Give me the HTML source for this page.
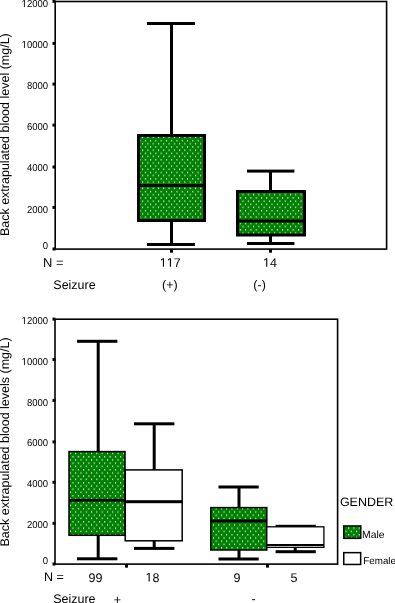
<!DOCTYPE html><html><head><meta charset="utf-8"><style>
html,body{margin:0;padding:0;background:#fff;width:395px;height:603px;overflow:hidden}
svg{display:block;will-change:transform}
text{font-family:"Liberation Sans",sans-serif;fill:#000;text-rendering:geometricPrecision;font-kerning:none;white-space:pre}
.t{font-size:10.0px}
.l{font-size:12.5px}
.g{font-size:9.8px}
</style></head><body>
<svg width="395" height="603" viewBox="0 0 395 603">
<defs><pattern id="dots" x="2.24" y="6.08" width="5.28" height="6.37" patternUnits="userSpaceOnUse"><rect width="5.28" height="6.37" fill="#008000"/><rect x="0" y="0" width="1" height="1.5" fill="#fff" fill-opacity="0.95"/><rect x="2.64" y="3.185" width="1" height="1.5" fill="#fff" fill-opacity="0.95"/></pattern><pattern id="dots2" x="3.6" y="0.95" width="5.3" height="6.5" patternUnits="userSpaceOnUse"><rect width="5.3" height="6.5" fill="#008000"/><rect x="0" y="0" width="1" height="1.5" fill="#fff" fill-opacity="0.95"/><rect x="2.65" y="3.25" width="1" height="1.5" fill="#fff" fill-opacity="0.95"/></pattern></defs>
<rect x="170.00" y="23.5" width="3" height="112.00" fill="#000"/>
<rect x="170.00" y="220.5" width="3" height="24.00" fill="#000"/>
<rect x="147" y="22.00" width="48.00" height="3" fill="#000"/>
<rect x="147" y="243.00" width="48.00" height="3" fill="#000"/>
<rect x="138.5" y="135.5" width="66.00" height="85.00" fill="url(#dots)" stroke="#000" stroke-width="3"/>
<rect x="138.5" y="184.00" width="66.00" height="3" fill="#000"/>
<rect x="269.00" y="171.1" width="3" height="20.40" fill="#000"/>
<rect x="269.00" y="235" width="3" height="8.50" fill="#000"/>
<rect x="247" y="169.60" width="47.40" height="3" fill="#000"/>
<rect x="247" y="242.00" width="47.40" height="3" fill="#000"/>
<rect x="237.5" y="191.5" width="67.00" height="43.50" fill="url(#dots)" stroke="#000" stroke-width="3"/>
<rect x="237.5" y="219.50" width="67.00" height="3" fill="#000"/>
<rect x="55.2" y="1.5" width="331.40" height="247.60" fill="none" stroke="#000" stroke-width="1.6"/>
<rect x="52.5" y="-0.20" width="3.0" height="3" fill="#000"/>
<g transform="translate(48.00,7.00) scale(0.95,1)"><text x="-27.808" y="0" class="t"> 2000</text><path d="M515 0V1237L197 1010V1180L530 1409H696V0Z" transform="translate(-27.808,0) scale(0.004883,-0.004883)" fill="#000"/></g>
<rect x="52.5" y="41.90" width="3.0" height="3" fill="#000"/>
<g transform="translate(48.00,48.00) scale(0.95,1)"><text x="-27.808" y="0" class="t"> 0000</text><path d="M515 0V1237L197 1010V1180L530 1409H696V0Z" transform="translate(-27.808,0) scale(0.004883,-0.004883)" fill="#000"/></g>
<rect x="52.5" y="82.60" width="3.0" height="3" fill="#000"/>
<g transform="translate(48.00,89.00) scale(0.95,1)"><text x="-22.246" y="0" class="t">8000</text></g>
<rect x="52.5" y="123.60" width="3.0" height="3" fill="#000"/>
<g transform="translate(48.00,130.00) scale(0.95,1)"><text x="-22.246" y="0" class="t">6000</text></g>
<rect x="52.5" y="165.50" width="3.0" height="3" fill="#000"/>
<g transform="translate(48.00,171.00) scale(0.95,1)"><text x="-22.246" y="0" class="t">4000</text></g>
<rect x="52.5" y="205.90" width="3.0" height="3" fill="#000"/>
<g transform="translate(48.00,213.00) scale(0.95,1)"><text x="-22.246" y="0" class="t">2000</text></g>
<rect x="52.5" y="247.50" width="3.0" height="3" fill="#000"/>
<g transform="translate(48.00,249.00) scale(0.95,1)"><text x="-5.562" y="0" class="t">0</text></g>
<rect x="170.0" y="249.1" width="3" height="3.6" fill="#000"/>
<rect x="269.0" y="249.1" width="3" height="3.6" fill="#000"/>
<text x="43.1" y="266.6" class="l" style="font-size:12.9px">N =</text>
<g transform="translate(170.20,266.80) scale(1.0,1)"><text x="-10.428" y="0" class="l">  7</text><path d="M515 0V1237L197 1010V1180L530 1409H696V0Z" transform="translate(-10.428,0) scale(0.006104,-0.006104)" fill="#000"/><path d="M515 0V1237L197 1010V1180L530 1409H696V0Z" transform="translate(-3.476,0) scale(0.006104,-0.006104)" fill="#000"/></g>
<g transform="translate(270.00,266.80) scale(1.0,1)"><text x="-6.952" y="0" class="l"> 4</text><path d="M515 0V1237L197 1010V1180L530 1409H696V0Z" transform="translate(-6.952,0) scale(0.006104,-0.006104)" fill="#000"/></g>
<text x="53.3" y="288.9" class="l">Seizure</text>
<text x="169.8" y="288.9" class="l" text-anchor="middle">(+)</text>
<text x="259.6" y="288.9" class="l" text-anchor="middle">(-)</text>
<text transform="translate(8.9,236.1) rotate(-90)" class="l">Back extrapulated blood level (mg/L)</text>
<rect x="96.70" y="341.3" width="3" height="110.30" fill="#000"/>
<rect x="96.70" y="535.3" width="3" height="23.50" fill="#000"/>
<rect x="77" y="339.80" width="40.40" height="3" fill="#000"/>
<rect x="77" y="557.30" width="40.40" height="3" fill="#000"/>
<rect x="69" y="451.6" width="56.00" height="83.70" fill="url(#dots2)" stroke="#000" stroke-width="1.5"/>
<rect x="69" y="498.95" width="56.00" height="2.7" fill="#000"/>
<rect x="152.70" y="423.8" width="3" height="46.10" fill="#000"/>
<rect x="152.70" y="540.8" width="3" height="7.60" fill="#000"/>
<rect x="134" y="422.30" width="40.40" height="3" fill="#000"/>
<rect x="134" y="546.90" width="40.40" height="3" fill="#000"/>
<rect x="125.2" y="469.9" width="57.00" height="70.90" fill="#fff" stroke="#000" stroke-width="1.5"/>
<rect x="125.2" y="500.20" width="57.00" height="3" fill="#000"/>
<rect x="237.50" y="487" width="3" height="20.60" fill="#000"/>
<rect x="237.50" y="550" width="3" height="9.00" fill="#000"/>
<rect x="218.5" y="485.50" width="40.20" height="3" fill="#000"/>
<rect x="218.5" y="557.50" width="40.20" height="3" fill="#000"/>
<rect x="210.8" y="507.6" width="56.00" height="42.40" fill="url(#dots2)" stroke="#000" stroke-width="1.5"/>
<rect x="210.8" y="519.50" width="56.00" height="3" fill="#000"/>
<rect x="293.70" y="526.3" width="3" height="0.50" fill="#000"/>
<rect x="293.70" y="547.2" width="3" height="4.50" fill="#000"/>
<rect x="275.6" y="524.80" width="40.20" height="3" fill="#000"/>
<rect x="275.6" y="550.20" width="40.20" height="3" fill="#000"/>
<rect x="266.8" y="526.8" width="57.10" height="20.55" fill="#fff" stroke="#000" stroke-width="1.3"/>
<rect x="266.8" y="544.00" width="57.10" height="2" fill="#000"/>
<rect x="55.0" y="319.2" width="282.60" height="244.90" fill="none" stroke="#000" stroke-width="1.6"/>
<rect x="52.5" y="317.60" width="3.0" height="3" fill="#000"/>
<g transform="translate(48.00,324.00) scale(0.95,1)"><text x="-27.808" y="0" class="t"> 2000</text><path d="M515 0V1237L197 1010V1180L530 1409H696V0Z" transform="translate(-27.808,0) scale(0.004883,-0.004883)" fill="#000"/></g>
<rect x="52.5" y="358.05" width="3.0" height="3" fill="#000"/>
<g transform="translate(48.00,365.00) scale(0.95,1)"><text x="-27.808" y="0" class="t"> 0000</text><path d="M515 0V1237L197 1010V1180L530 1409H696V0Z" transform="translate(-27.808,0) scale(0.004883,-0.004883)" fill="#000"/></g>
<rect x="52.5" y="398.90" width="3.0" height="3" fill="#000"/>
<g transform="translate(48.00,406.00) scale(0.95,1)"><text x="-22.246" y="0" class="t">8000</text></g>
<rect x="52.5" y="440.40" width="3.0" height="3" fill="#000"/>
<g transform="translate(48.00,446.00) scale(0.95,1)"><text x="-22.246" y="0" class="t">6000</text></g>
<rect x="52.5" y="480.80" width="3.0" height="3" fill="#000"/>
<g transform="translate(48.00,487.00) scale(0.95,1)"><text x="-22.246" y="0" class="t">4000</text></g>
<rect x="52.5" y="521.80" width="3.0" height="3" fill="#000"/>
<g transform="translate(48.00,528.00) scale(0.95,1)"><text x="-22.246" y="0" class="t">2000</text></g>
<rect x="52.5" y="562.50" width="3.0" height="3" fill="#000"/>
<g transform="translate(48.00,564.00) scale(0.95,1)"><text x="-5.562" y="0" class="t">0</text></g>
<rect x="125.0" y="564.1" width="3" height="3.5" fill="#000"/>
<rect x="266.0" y="564.1" width="3" height="3.5" fill="#000"/>
<text x="44" y="581.3" class="l">N =</text>
<text x="95.4" y="581.5" class="l" text-anchor="middle">99</text>
<g transform="translate(152.40,581.50) scale(1.0,1)"><text x="-6.952" y="0" class="l"> 8</text><path d="M515 0V1237L197 1010V1180L530 1409H696V0Z" transform="translate(-6.952,0) scale(0.006104,-0.006104)" fill="#000"/></g>
<text x="237" y="581.5" class="l" text-anchor="middle">9</text>
<text x="293.9" y="581.5" class="l" text-anchor="middle">5</text>
<text x="53.2" y="602.8" class="l">Seizure</text>
<text x="117.4" y="603.5" class="l" text-anchor="middle">+</text>
<text x="253.6" y="602.8" class="l" text-anchor="middle">-</text>
<text transform="translate(8.9,546.5) rotate(-90)" class="l">Back extrapulated blood levels (mg/L)</text>
<text transform="translate(339.9,506.4) scale(1.03,1)" style="font-size:12.1px">GENDER</text>
<rect x="343.75" y="525.95" width="17" height="12.4" fill="url(#dots2)" stroke="#000" stroke-width="1.5"/>
<text x="362" y="538" style="font-size:10.4px">Male</text>
<rect x="343.75" y="552.65" width="16.9" height="11.8" fill="#fff" stroke="#000" stroke-width="1.5"/>
<text x="363.3" y="564" class="g">Female</text>
</svg></body></html>
